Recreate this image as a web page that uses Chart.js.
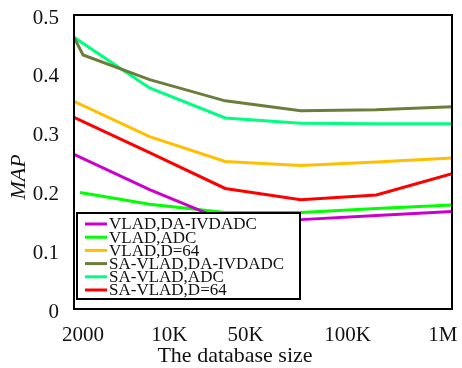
<!DOCTYPE html>
<html><head><meta charset="utf-8">
<script src="https://cdn.jsdelivr.net/npm/chart.js@4/dist/chart.umd.min.js"></script>
<style>html,body{margin:0;padding:0;background:#fff}</style>
</head><body>
<canvas id="c" width="462" height="368"></canvas>
<script>
// ---- data ----
const seriesNames = ["VLAD,DA-IVDADC","VLAD,ADC","VLAD,D=64","SA-VLAD,DA-IVDADC","SA-VLAD,ADC","SA-VLAD,D=64"];
const xIndex      = [0, 1, 2, 3, 4, 5];
const xIndexAdc   = [0.08, 1, 2, 3, 4, 5];
const xIndexSaDa  = [0, 0.12, 1, 2, 3, 4, 5];
const vladDaIvdadc   = [0.263, 0.203, 0.150, 0.152, 0.159, 0.166];
const vladAdc        = [0.198, 0.178, 0.164, 0.164, 0.171, 0.177];
const vladD64        = [0.353, 0.293, 0.251, 0.244, 0.250, 0.257];
const saVladDaIvdadc = [0.462, 0.432, 0.390, 0.354, 0.337, 0.339, 0.344];
const saVladAdc      = [0.462, 0.376, 0.325, 0.316, 0.315, 0.315];
const saVladD64      = [0.326, 0.266, 0.205, 0.186, 0.194, 0.230];
const xTickValues = [0.12, 1.26, 2.27, 3.62, 4.88];
const xTickLabels = ["2000", "10K", "50K", "100K", "1M"];
const xTitle = "The database size";
const yTitle = "MAP";
const colors = ["#cc00cc", "#00ff00", "#ffbf00", "#6b7d3a", "#00ff80", "#ff0000"];

const pts = (xs, ys) => ys.map((y, i) => ({x: xs[i], y}));
const seriesData = [
  pts(xIndex, vladDaIvdadc), pts(xIndexAdc, vladAdc), pts(xIndex, vladD64),
  pts(xIndexSaDa, saVladDaIvdadc), pts(xIndex, saVladAdc), pts(xIndex, saVladD64)
];
const FONT = "'Liberation Serif', 'Times New Roman', serif";

const frameAndLegend = {
  id: 'frameAndLegend',
  afterDatasetsDraw(chart) {
    const ctx = chart.ctx, a = chart.chartArea;
    ctx.save();
    ctx.strokeStyle = '#000'; ctx.lineWidth = 2;
    ctx.strokeRect(a.left, a.top, a.right - a.left, a.bottom - a.top);
    // legend
    const lx = a.left + 3, ly = a.top + 198, lw = 223, lh = 86;
    ctx.fillStyle = '#fff';
    ctx.fillRect(lx, ly, lw, lh);
    ctx.strokeRect(lx, ly, lw, lh);
    ctx.font = "17px " + FONT;
    ctx.textBaseline = 'middle';
    ctx.textAlign = 'left';
    chart.data.datasets.forEach((ds, i) => {
      const y = ly + 11 + i * 13.2;
      ctx.strokeStyle = ds.borderColor; ctx.lineWidth = 3;
      ctx.beginPath(); ctx.moveTo(lx + 8, y); ctx.lineTo(lx + 30, y); ctx.stroke();
      ctx.fillStyle = '#111';
      ctx.fillText(ds.label, lx + 32, y + 1);
    });
    // x-axis title
    ctx.textAlign = 'center';
    ctx.font = "22px " + FONT;
    ctx.fillText(xTitle, 235, 356);
    // y-axis title
    ctx.translate(19, 177);
    ctx.rotate(-Math.PI / 2);
    ctx.font = "italic 22px " + FONT;
    ctx.fillText(yTitle, 0, 0);
    ctx.restore();
  }
};

const noOverflow = s => { s.paddingLeft = 0; s.paddingRight = 0; s.paddingTop = 0; s.paddingBottom = 0; };

new Chart(document.getElementById('c'), {
  type: 'line',
  data: {
    datasets: seriesNames.map((n, i) => ({
      label: n, data: seriesData[i], borderColor: colors[i], backgroundColor: colors[i],
      borderWidth: 3, pointRadius: 0, tension: 0, fill: false
    }))
  },
  options: {
    responsive: false, animation: false,
    layout: {padding: {top: 15, right: 10, left: 0, bottom: 0}},
    plugins: {legend: {display: false}, tooltip: {enabled: false}},
    scales: {
      x: {
        type: 'linear', min: 0, max: 5,
        grid: {display: false, drawTicks: false}, border: {display: false},
        afterBuildTicks: s => { s.ticks = xTickValues.map(v => ({value: v})); },
        afterFit: s => { s.height = 59; noOverflow(s); },
        ticks: {
          autoSkip: false, maxRotation: 0, padding: 14, color: '#111',
          font: {family: FONT, size: 21},
          callback: v => xTickLabels[xTickValues.indexOf(v)]
        }
      },
      y: {
        min: 0, max: 0.5,
        grid: {display: false, drawTicks: false}, border: {display: false},
        afterFit: s => { s.width = 74; noOverflow(s); },
        ticks: {stepSize: 0.1, padding: 15, color: '#111', labelOffset: 3,
          font: {family: FONT, size: 21}}
      }
    }
  },
  plugins: [frameAndLegend]
});
</script>
</body></html>
